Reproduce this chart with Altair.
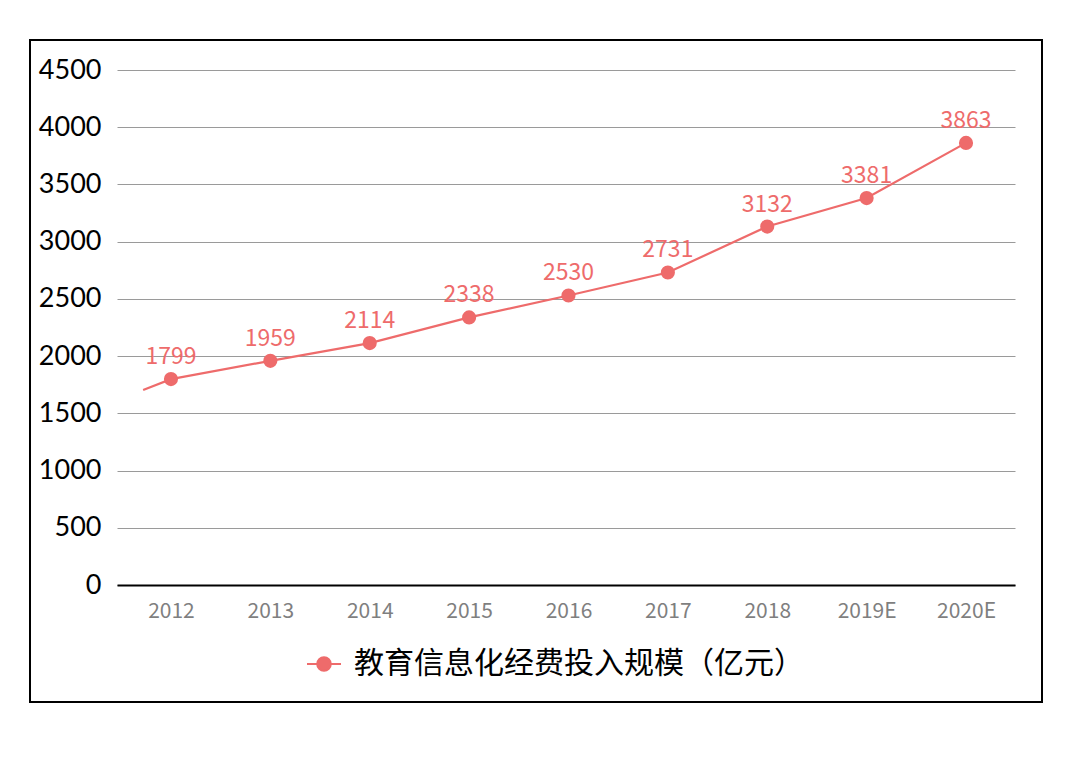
import altair as alt
import pandas as pd

years = ["2012", "2013", "2014", "2015", "2016", "2017", "2018", "2019E", "2020E"]
values = [1799, 1959, 2114, 2338, 2530, 2731, 3132, 3381, 3863]
lead_x = -0.28
lead_value = 1704
series_name = "教育信息化经费投入规模（亿元）"
y_ticks = [0, 500, 1000, 1500, 2000, 2500, 3000, 3500, 4000, 4500]

RED = "#EE6B6B"
idx = list(range(len(years)))
main = pd.DataFrame({"i": idx, "year": years, "value": values, "series": series_name})
line_df = pd.DataFrame({"i": [lead_x] + idx, "value": [lead_value] + values})

label_expr = "[" + ",".join(f"'{y}'" for y in years) + "][datum.value]"

x_enc = alt.X(
    "i:Q",
    scale=alt.Scale(domain=[-0.543, 8.493], nice=False, zero=False),
    axis=alt.Axis(values=idx, labelExpr=label_expr, title=None, grid=False, ticks=False,
                  domainColor="#000000", domainWidth=2, labelColor="#7f7f7f",
                  labelFontSize=21, labelFont="Noto Sans CJK SC", labelPadding=15),
)
y_enc = alt.Y(
    "value:Q",
    scale=alt.Scale(domain=[0, 4500], nice=False),
    axis=alt.Axis(values=y_ticks, title=None, domain=False, ticks=False, format="d",
                  gridColor="#9a9a9a", gridWidth=1, labelColor="#000000",
                  labelFontSize=27, labelFont="Lato", labelPadding=16),
)

sym_path = "M-1,0L1,0M0.4,0A0.4,0.4,0,1,1,-0.4,0A0.4,0.4,0,1,1,0.4,0Z"

line = alt.Chart(line_df).mark_line(color=RED, strokeWidth=2.2).encode(x=x_enc, y=y_enc)
points = alt.Chart(main).mark_point(filled=True, size=200, opacity=1).encode(
    x=x_enc, y=y_enc,
    color=alt.Color("series:N", scale=alt.Scale(range=[RED]),
                    legend=alt.Legend(title=None, orient="none", legendX=189, legendY=576,
                                      symbolType=sym_path, symbolSize=1156,
                                      symbolFillColor=RED, symbolStrokeColor=RED,
                                      symbolStrokeWidth=2, symbolOpacity=1,
                                      labelFontSize=30, labelFont="Noto Sans CJK SC",
                                      labelColor="#000000", labelOffset=12, labelLimit=0)),
)
labels = alt.Chart(main).mark_text(dy=-22, fontSize=23, color=RED, font="Noto Sans CJK SC").encode(
    x=x_enc, y=y_enc, text="value:Q"
)
border = alt.Chart(pd.DataFrame({"a": [0]})).mark_rect(
    fill="transparent", stroke="#000000", strokeWidth=2
).encode(x=alt.value(-87), x2=alt.value(925), y=alt.value(-30), y2=alt.value(632))

chart = alt.layer(border, line, points, labels).properties(
    width=898, height=515,
    padding={"left": 109, "top": 62, "right": 35, "bottom": 125},
    autosize="none",
).configure_view(stroke=None)

chart.save("out.html", embed_options={"renderer": "svg", "actions": False})
